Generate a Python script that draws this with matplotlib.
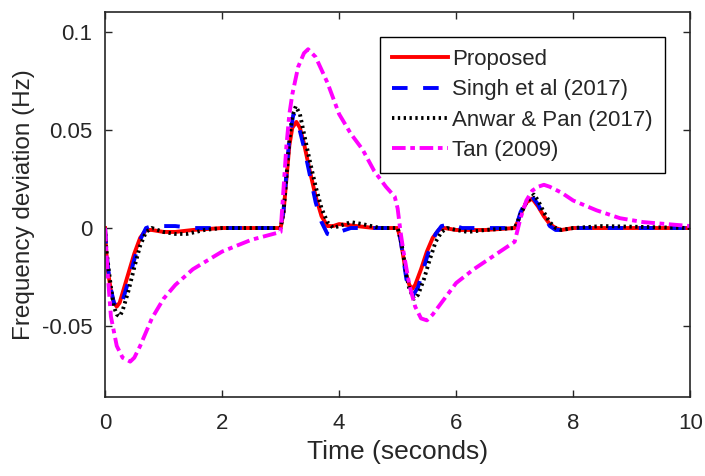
import matplotlib.pyplot as plt

# time (s) and frequency deviation (Hz)
t_prop = [0, 0.02, 0.05, 0.1, 0.15, 0.2, 0.25, 0.3, 0.4, 0.5, 0.6, 0.7, 0.8, 1.0, 1.2, 1.5, 2.0, 3.0,
          3.05, 3.1, 3.15, 3.2, 3.27, 3.33, 3.4, 3.5, 3.6, 3.7, 3.8, 3.9, 4.0, 4.3, 4.6, 5.0,
          5.05, 5.1, 5.15, 5.2, 5.25, 5.3, 5.4, 5.5, 5.6, 5.7, 5.8, 6.0, 6.5, 7.0,
          7.05, 7.1, 7.2, 7.3, 7.4, 7.5, 7.6, 7.7, 7.8, 8.0, 10.0]
y_prop = [0, -0.012, -0.022, -0.032, -0.038, -0.040, -0.038, -0.033, -0.023, -0.013, -0.005, -0.001, -0.001, -0.002, -0.002, -0.001, 0, 0,
          0.008, 0.025, 0.042, 0.051, 0.054, 0.051, 0.043, 0.029, 0.016, 0.006, 0.001, 0.001, 0.002, 0.001, 0.0, 0.0,
          -0.006, -0.015, -0.024, -0.029, -0.031, -0.029, -0.021, -0.012, -0.005, -0.001, 0.0, -0.001, -0.001, 0.0,
          0.003, 0.007, 0.013, 0.015, 0.011, 0.006, 0.002, 0.0, -0.001, 0.0, 0.0]

t_singh = [0, 0.02, 0.05, 0.1, 0.15, 0.22, 0.3, 0.4, 0.5, 0.6, 0.7, 0.8, 1.0, 1.2, 1.5, 2.0, 3.0,
           3.05, 3.1, 3.15, 3.22, 3.3, 3.4, 3.5, 3.6, 3.7, 3.8, 3.9, 4.0, 4.2, 4.6, 5.0,
           5.05, 5.1, 5.15, 5.2, 5.27, 5.35, 5.45, 5.55, 5.65, 5.75, 5.9, 6.1, 6.5, 7.0,
           7.05, 7.1, 7.2, 7.3, 7.4, 7.5, 7.6, 7.7, 7.8, 7.9, 8.2, 10.0]
y_singh = [0, -0.010, -0.020, -0.031, -0.038, -0.041, -0.037, -0.027, -0.016, -0.006, 0.0, 0.001, 0.001, 0.001, 0.0, 0.0, 0.0,
           0.009, 0.028, 0.046, 0.058, 0.053, 0.041, 0.027, 0.013, 0.003, -0.003, -0.004, -0.002, 0.0, 0.0, 0.0,
           -0.006, -0.016, -0.026, -0.031, -0.034, -0.030, -0.020, -0.010, -0.003, 0.001, 0.002, 0.0, 0.0, 0.0,
           0.003, 0.008, 0.014, 0.016, 0.012, 0.006, 0.001, -0.001, -0.001, 0.0, 0.0, 0.0]

t_anwar = [0, 0.02, 0.05, 0.1, 0.15, 0.2, 0.25, 0.3, 0.4, 0.5, 0.6, 0.7, 0.8, 1.0, 1.2, 1.4, 1.7, 2.0, 3.0,
           3.05, 3.1, 3.15, 3.2, 3.26, 3.33, 3.4, 3.5, 3.6, 3.7, 3.8, 3.9, 4.0, 4.2, 4.4, 4.7, 5.0,
           5.05, 5.1, 5.15, 5.2, 5.28, 5.35, 5.45, 5.55, 5.65, 5.75, 5.85, 6.0, 6.2, 6.5, 7.0,
           7.05, 7.1, 7.2, 7.33, 7.4, 7.5, 7.6, 7.7, 7.8, 8.0, 8.5, 10.0]
y_anwar = [0, -0.010, -0.018, -0.030, -0.040, -0.044, -0.045, -0.042, -0.032, -0.020, -0.009, -0.002, 0.0, -0.002, -0.003, -0.003, -0.001, 0.0, 0.0,
           0.008, 0.026, 0.045, 0.057, 0.062, 0.058, 0.048, 0.034, 0.021, 0.010, 0.003, 0.0, 0.001, 0.003, 0.002, 0.0, 0.0,
           -0.005, -0.014, -0.024, -0.031, -0.036, -0.034, -0.026, -0.016, -0.007, -0.002, 0.0, -0.001, -0.002, -0.001, 0.0,
           0.003, 0.007, 0.013, 0.017, 0.014, 0.008, 0.003, 0.0, -0.001, 0.0, 0.001, 0.0]

t_tan = [0, 0.05, 0.1, 0.2, 0.3, 0.43, 0.5, 0.6, 0.8, 1.0, 1.2, 1.5, 2.0, 2.5, 3.0,
         3.05, 3.1, 3.15, 3.2, 3.3, 3.4, 3.47, 3.6, 3.8, 4.0, 4.2, 4.4, 4.6, 4.8, 4.95, 5.0,
         5.05, 5.1, 5.2, 5.3, 5.4, 5.5, 5.6, 5.8, 6.0, 6.3, 6.6, 6.9, 7.0,
         7.1, 7.2, 7.3, 7.4, 7.5, 7.6, 7.8, 8.0, 8.4, 8.8, 9.2, 9.6, 10.0]
y_tan = [0, -0.025, -0.045, -0.060, -0.066, -0.068, -0.066, -0.060, -0.046, -0.036, -0.029, -0.021, -0.012, -0.006, -0.002,
         0.020, 0.042, 0.058, 0.068, 0.082, 0.089, 0.091, 0.087, 0.074, 0.058, 0.048, 0.040, 0.029, 0.021, 0.016, 0.010,
         -0.002, -0.012, -0.029, -0.040, -0.046, -0.047, -0.044, -0.036, -0.028, -0.021, -0.015, -0.009, -0.007,
         0.005, 0.014, 0.019, 0.021, 0.022, 0.021, 0.018, 0.014, 0.009, 0.005, 0.003, 0.002, 0.001]

plt.rcParams['font.family'] = ['Liberation Sans', 'DejaVu Sans']

fig = plt.figure(figsize=(7.05, 4.76), dpi=100)
ax = fig.add_axes([0.149, 0.166, 0.830, 0.809])

ax.plot(t_prop, y_prop, color='#ff0000', lw=2.8, ls='-', label='Proposed')
ax.plot(t_singh, y_singh, color='#0000ff', lw=2.8, ls=(0, (4, 4)), label='Singh et al (2017)')
ax.plot(t_anwar, y_anwar, color='black', lw=2.8, ls=(0, (0.6, 0.9)), label='Anwar & Pan (2017)')
ax.plot(t_tan, y_tan, color='#ff00ff', lw=2.8, ls=(0, (3.5, 1.2, 1.2, 1.2)), label='Tan (2009)')

ax.set_xlim(0, 10)
ax.set_ylim(-0.086, 0.110)
ax.set_xticks([0, 2, 4, 6, 8, 10])
ax.set_yticks([-0.05, 0, 0.05, 0.1])
ax.set_yticklabels(['-0.05', '0', '0.05', '0.1'])
ax.tick_params(direction='in', top=True, right=True, length=5, width=1,
               labelsize=16, colors='#262626')
ax.tick_params(axis='x', pad=11.5)
ax.tick_params(axis='y', pad=9)
for s in ax.spines.values():
    s.set_color('#262626')
    s.set_linewidth(1.2)

ax.set_xlabel('Time (seconds)', fontsize=19, color='#262626', labelpad=4)
ax.set_ylabel('Frequency deviation (Hz)', fontsize=17.5, color='#262626', labelpad=5)

leg = ax.legend(loc='upper right', bbox_to_anchor=(0.957, 0.935), borderaxespad=0,
                fontsize=16, fancybox=False, framealpha=1, edgecolor='black',
                handlelength=2.5, handletextpad=0.2, labelspacing=0.42, borderpad=0.55)
leg.get_frame().set_linewidth(1.0)
for txt in leg.get_texts():
    txt.set_color('#262626')

fig.savefig('out.png', dpi=100)
